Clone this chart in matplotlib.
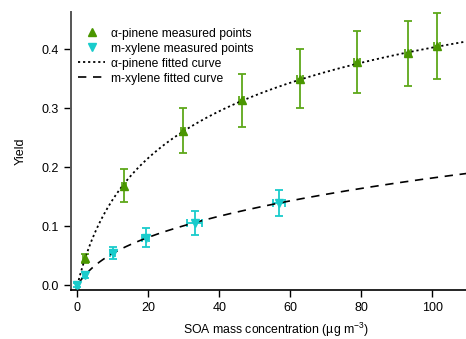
import numpy as np
import matplotlib
matplotlib.use("Agg")
import matplotlib.pyplot as plt

plt.rcParams['font.family'] = ['Liberation Sans', 'DejaVu Sans']
plt.rcParams['mathtext.default'] = 'regular'

# alpha-pinene measurements
apin_mass = [2.1, 13.1, 29.7, 46.3, 62.7, 78.7, 93.1, 101.4]
apin_yield = [0.045, 0.168, 0.262, 0.313, 0.350, 0.378, 0.393, 0.405]
apin_yerr = [0.007, 0.028, 0.038, 0.045, 0.050, 0.053, 0.055, 0.056]
apin_xerr = [0.4, 0.6, 0.6, 0.7, 0.8, 0.8, 0.8, 0.8]

# m-xylene measurements
mxyl_mass = [0.0, 2.1, 9.9, 19.3, 33.0, 56.7]
mxyl_yield = [0.0, 0.017, 0.054, 0.080, 0.105, 0.139]
mxyl_yerr = [0.004, 0.005, 0.010, 0.016, 0.020, 0.022]
mxyl_xerr = [0.5, 0.6, 0.8, 1.0, 2.0, 1.7]

# two-product partitioning fit parameters (alpha_i, K_i)
apin_fit = [(0.255, 0.08), (0.352, 0.01)]
mxyl_fit = [(0.075, 0.10), (0.340, 0.005)]

x_ticks = [0, 20, 40, 60, 80, 100]
y_ticks = [0.0, 0.1, 0.2, 0.3, 0.4]


def odum(m, params):
    m = np.asarray(m, dtype=float)
    return sum(a * k * m / (1 + k * m) for a, k in params)


green = '#4a9600'
green_err = '#5ea81a'
cyan = '#19cccc'

fig = plt.figure(figsize=(4.66, 3.39), dpi=100)
ax = fig.add_axes([0.1524, 0.1445, 0.8476, 0.8201])

m = np.linspace(0, 110, 400)
ln_a, = ax.plot(m, odum(m, apin_fit), color='black', linestyle=(0, (1.2, 1.6)),
                linewidth=1.3, zorder=3)
ln_m, = ax.plot(m, odum(m, mxyl_fit), color='black', linestyle=(0, (5, 4)),
                linewidth=1.2, zorder=3)

ax.errorbar(apin_mass, apin_yield, yerr=apin_yerr, xerr=apin_xerr, fmt='none',
            ecolor=green_err, elinewidth=1.3, capsize=3, capthick=1.3, zorder=2)
pa, = ax.plot(apin_mass, apin_yield, linestyle='none', marker='^',
              color=green, markersize=5.5, zorder=4)

ax.errorbar(mxyl_mass, mxyl_yield, yerr=mxyl_yerr, xerr=mxyl_xerr, fmt='none',
            ecolor=cyan, elinewidth=1.3, capsize=3, capthick=1.3, zorder=2)
pm, = ax.plot(mxyl_mass, mxyl_yield, linestyle='none', marker='v',
              color=cyan, markersize=5.5, zorder=4)

ax.set_xlim(-1.8, 109.5)
ax.set_ylim(-0.0085, 0.463)
ax.set_xticks(x_ticks)
ax.set_yticks(y_ticks)
ax.set_yticklabels([f"{v:.1f}" for v in y_ticks])

for side in ('top', 'right'):
    ax.spines[side].set_visible(False)
ax.spines['left'].set_color('#555555')
ax.spines['left'].set_linewidth(1.4)
ax.spines['bottom'].set_linewidth(1.2)
ax.tick_params(direction='out', length=5, width=1, labelsize=9, colors='black')

ax.set_xlabel('SOA mass concentration (µg m$^{-3}$)', fontsize=8.8)
ax.xaxis.set_label_coords(0.52, -0.112)
ax.set_ylabel('Yield', fontsize=9, labelpad=11)

leg = ax.legend([pa, pm, ln_a, ln_m],
                ['α-pinene measured points', 'm-xylene measured points',
                 'α-pinene fitted curve', 'm-xylene fitted curve'],
                loc='upper left', bbox_to_anchor=(0.0, 0.97), frameon=False,
                fontsize=8.7, handlelength=2.2, handletextpad=0.55,
                labelspacing=0.25, borderaxespad=0.2)

fig.savefig('out.png', dpi=100)
